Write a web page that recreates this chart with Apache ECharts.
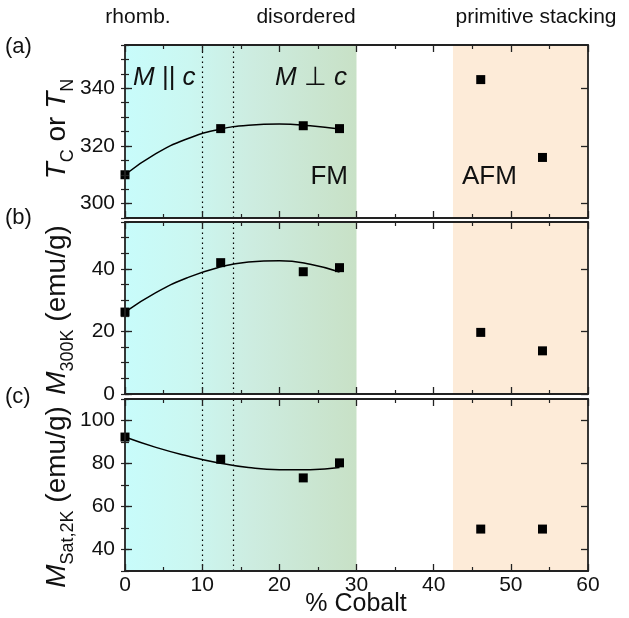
<!DOCTYPE html>
<html>
<head>
<meta charset="utf-8">
<script src="https://cdn.jsdelivr.net/npm/echarts@6/dist/echarts.min.js"></script>
<style>
  html, body { margin: 0; padding: 0; background: #fff; }
  #chart { width: 629px; height: 618px; }
</style>
</head>
<body>
<div id="chart"></div>
<script>
// Measured samples: cobalt content (%) and the three quantities
const cobalt = [0, 12.4, 23.1, 27.8, 46.1, 54.1];
const tempTcTn = [310, 326, 327, 326, 343, 316];
const mag300K = [26.2, 42.0, 39.1, 40.4, 19.7, 13.8];
const magSat2K = [92.3, 82.0, 73.3, 80.3, 49.5, 49.5];

// Guide-to-the-eye curves through the ferromagnetic samples
const curveX = [0, 4, 8, 12, 16, 20, 24, 27.8];
const curveTemp = [310, 317.3, 322.4, 325.6, 327.2, 327.6, 327.0, 325.9];
const curveM300 = [26.2, 32.4, 37.1, 40.4, 42.2, 42.6, 41.5, 39.0];
const curveMsat = [92.3, 87.5, 83.6, 80.4, 78.1, 77.1, 77.1, 78.1];

// Axis ranges and labelled ticks
const xTicks = [0, 10, 20, 30, 40, 50, 60];
const rangeTemp = [295, 355], ticksTemp = [300, 320, 340], stepTemp = 5;
const rangeM300 = [0, 55], ticksM300 = [0, 20, 40], stepM300 = 5;
const rangeMsat = [30, 110], ticksMsat = [40, 60, 80, 100], stepMsat = 10;

// Composition regions and phase boundaries
const disorderedSpan = [0, 30];
const primitiveSpan = [42.5, 60];
const boundaries = [10, 14];

const FONT = '"Liberation Sans", Arial, Helvetica, sans-serif';
const AXIS_COLOR = '#222';
const chart = echarts.init(document.getElementById('chart'));

const grids = [
  { left: 125, right: 41, top: 45, height: 173 },
  { left: 125, right: 41, top: 222, height: 172 },
  { left: 125, right: 41, top: 399, height: 172 }
];

const lineStyleAxis = { color: AXIS_COLOR, width: 1.8 };

const xAxes = [];
grids.forEach((g, gi) => {
  ['bottom', 'top'].forEach(pos => {
    xAxes.push({
      type: 'value', gridIndex: gi, position: pos, z: 10,
      min: xTicks[0], max: xTicks[xTicks.length - 1], interval: 10,
      axisLine: { show: true, onZero: false, lineStyle: lineStyleAxis },
      axisTick: { show: true, inside: true, length: 7, lineStyle: { color: AXIS_COLOR, width: 1.3 } },
      minorTick: { show: true, splitNumber: 2, length: 4, lineStyle: { color: AXIS_COLOR, width: 1.2 } },
      axisLabel: {
        show: gi === 2 && pos === 'bottom', margin: 4,
        fontSize: 21, fontFamily: FONT, color: '#111'
      },
      splitLine: { show: false }
    });
  });
});

const yAxes = [];
function addY(gi, range, majors, step) {
  ['left', 'right'].forEach(pos => {
    yAxes.push({
      type: 'value', gridIndex: gi, position: pos, z: 10,
      min: range[0], max: range[1],
      axisLine: { show: true, onZero: false, lineStyle: lineStyleAxis },
      axisTick: { show: true, inside: true, length: 7, customValues: majors,
        lineStyle: { color: AXIS_COLOR, width: 1.3 } },
      axisLabel: { show: pos === 'left', customValues: majors, margin: 10,
        fontSize: 21, fontFamily: FONT, color: '#111' },
      splitLine: { show: false }
    });
    yAxes.push({
      type: 'value', gridIndex: gi, position: pos, z: 10,
      min: range[0], max: range[1], interval: step,
      axisLine: { show: false },
      axisTick: { show: true, inside: true, length: 4, lineStyle: { color: AXIS_COLOR, width: 1.2 } },
      axisLabel: { show: false },
      splitLine: { show: false }
    });
  });
}
addY(0, rangeTemp, ticksTemp, stepTemp);
addY(1, rangeM300, ticksM300, stepM300);
addY(2, rangeMsat, ticksMsat, stepMsat);

const regionGradient = new echarts.graphic.LinearGradient(0, 0, 1, 0, [
  { offset: 0, color: '#c8fcfb' },
  { offset: 0.28, color: '#cbf7f1' },
  { offset: 0.55, color: '#cdece0' },
  { offset: 1, color: '#c8e1c6' }
]);

function panelSeries(gi, values, curve) {
  const pts = cobalt.map((c, i) => [c, values[i]]);
  const curvePts = curveX.map((c, i) => [c, curve[i]]);
  return [
    {
      type: 'line', xAxisIndex: gi * 2, yAxisIndex: gi * 4,
      data: curvePts, smooth: 0.5, showSymbol: false, silent: true,
      lineStyle: { color: '#000', width: 1.5 }, z: 3,
      markArea: {
        silent: true,
        data: [
          [{ xAxis: disorderedSpan[0], itemStyle: { color: regionGradient } }, { xAxis: disorderedSpan[1] }],
          [{ xAxis: primitiveSpan[0], itemStyle: { color: '#fdebd8' } }, { xAxis: primitiveSpan[1] }]
        ]
      },
      markLine: {
        silent: true, symbol: 'none', label: { show: false },
        lineStyle: { color: '#000', type: [1.5, 3.5], width: 1.2 },
        data: boundaries.map(b => ({ xAxis: b }))
      }
    },
    {
      type: 'scatter', xAxisIndex: gi * 2, yAxisIndex: gi * 4,
      data: pts, symbol: 'rect', symbolSize: 9, z: 4,
      itemStyle: { color: '#000', opacity: 1 }
    }
  ];
}

const series = [
  ...panelSeries(0, tempTcTn, curveTemp),
  ...panelSeries(1, mag300K, curveM300),
  ...panelSeries(2, magSat2K, curveMsat)
];

function txt(x, y, text, size, align, extra) {
  return {
    type: 'text', x: x, y: y, z: 100, silent: true,
    style: Object.assign({
      text: text, fontSize: size, fontFamily: FONT, fill: '#111',
      align: align || 'center', verticalAlign: 'middle'
    }, extra || {})
  };
}

function richStyles(size) {
  return {
    i: { fontSize: size, fontFamily: FONT, fontStyle: 'italic', lineHeight: 40, verticalAlign: 'middle', fill: '#111' },
    n: { fontSize: size, fontFamily: FONT, lineHeight: 40, verticalAlign: 'middle', fill: '#111' },
    s: { fontSize: 18, fontFamily: FONT, lineHeight: 18, verticalAlign: 'bottom', fill: '#111' }
  };
}

function yTitle(y, text) {
  return {
    type: 'text', x: 57, y: y, rotation: Math.PI / 2, z: 100, silent: true,
    style: {
      text: text, rich: richStyles(28), fontSize: 28, fontFamily: FONT,
      align: 'center', verticalAlign: 'middle', fill: '#111'
    }
  };
}

const plotText = {
  rich: {
    i: { fontSize: 26, fontFamily: FONT, fontStyle: 'italic', fill: '#111' },
    n: { fontSize: 26, fontFamily: FONT, fill: '#111' }
  }
};

const graphics = [
  txt(138, 17, 'rhomb.', 21),
  txt(306, 17, 'disordered', 21),
  txt(536, 17, 'primitive stacking', 21),
  txt(5, 47, '(a)', 22, 'left'),
  txt(5, 218, '(b)', 22, 'left'),
  txt(5, 397, '(c)', 22, 'left'),
  txt(133, 78, '{i|M}{n| || }{i|c}', 26, 'left', plotText),
  txt(347, 78, '{i|M}{n| ⊥ }{i|c}', 26, 'right', plotText),
  txt(348, 177, 'FM', 26, 'right'),
  txt(462, 177, 'AFM', 26, 'left'),
  txt(356, 604, '% Cobalt', 25),
  yTitle(129, '{i|T}{s|C}{n| or }{i|T}{s|N}'),
  yTitle(310, '{i|M}{s|300K}{n| (emu/g)}'),
  yTitle(497, '{i|M}{s|Sat,2K}{n| (emu/g)}')
];

chart.setOption({
  animation: false,
  backgroundColor: '#fff',
  grid: grids,
  xAxis: xAxes,
  yAxis: yAxes,
  series: series,
  graphic: graphics
});
</script>
</body>
</html>
